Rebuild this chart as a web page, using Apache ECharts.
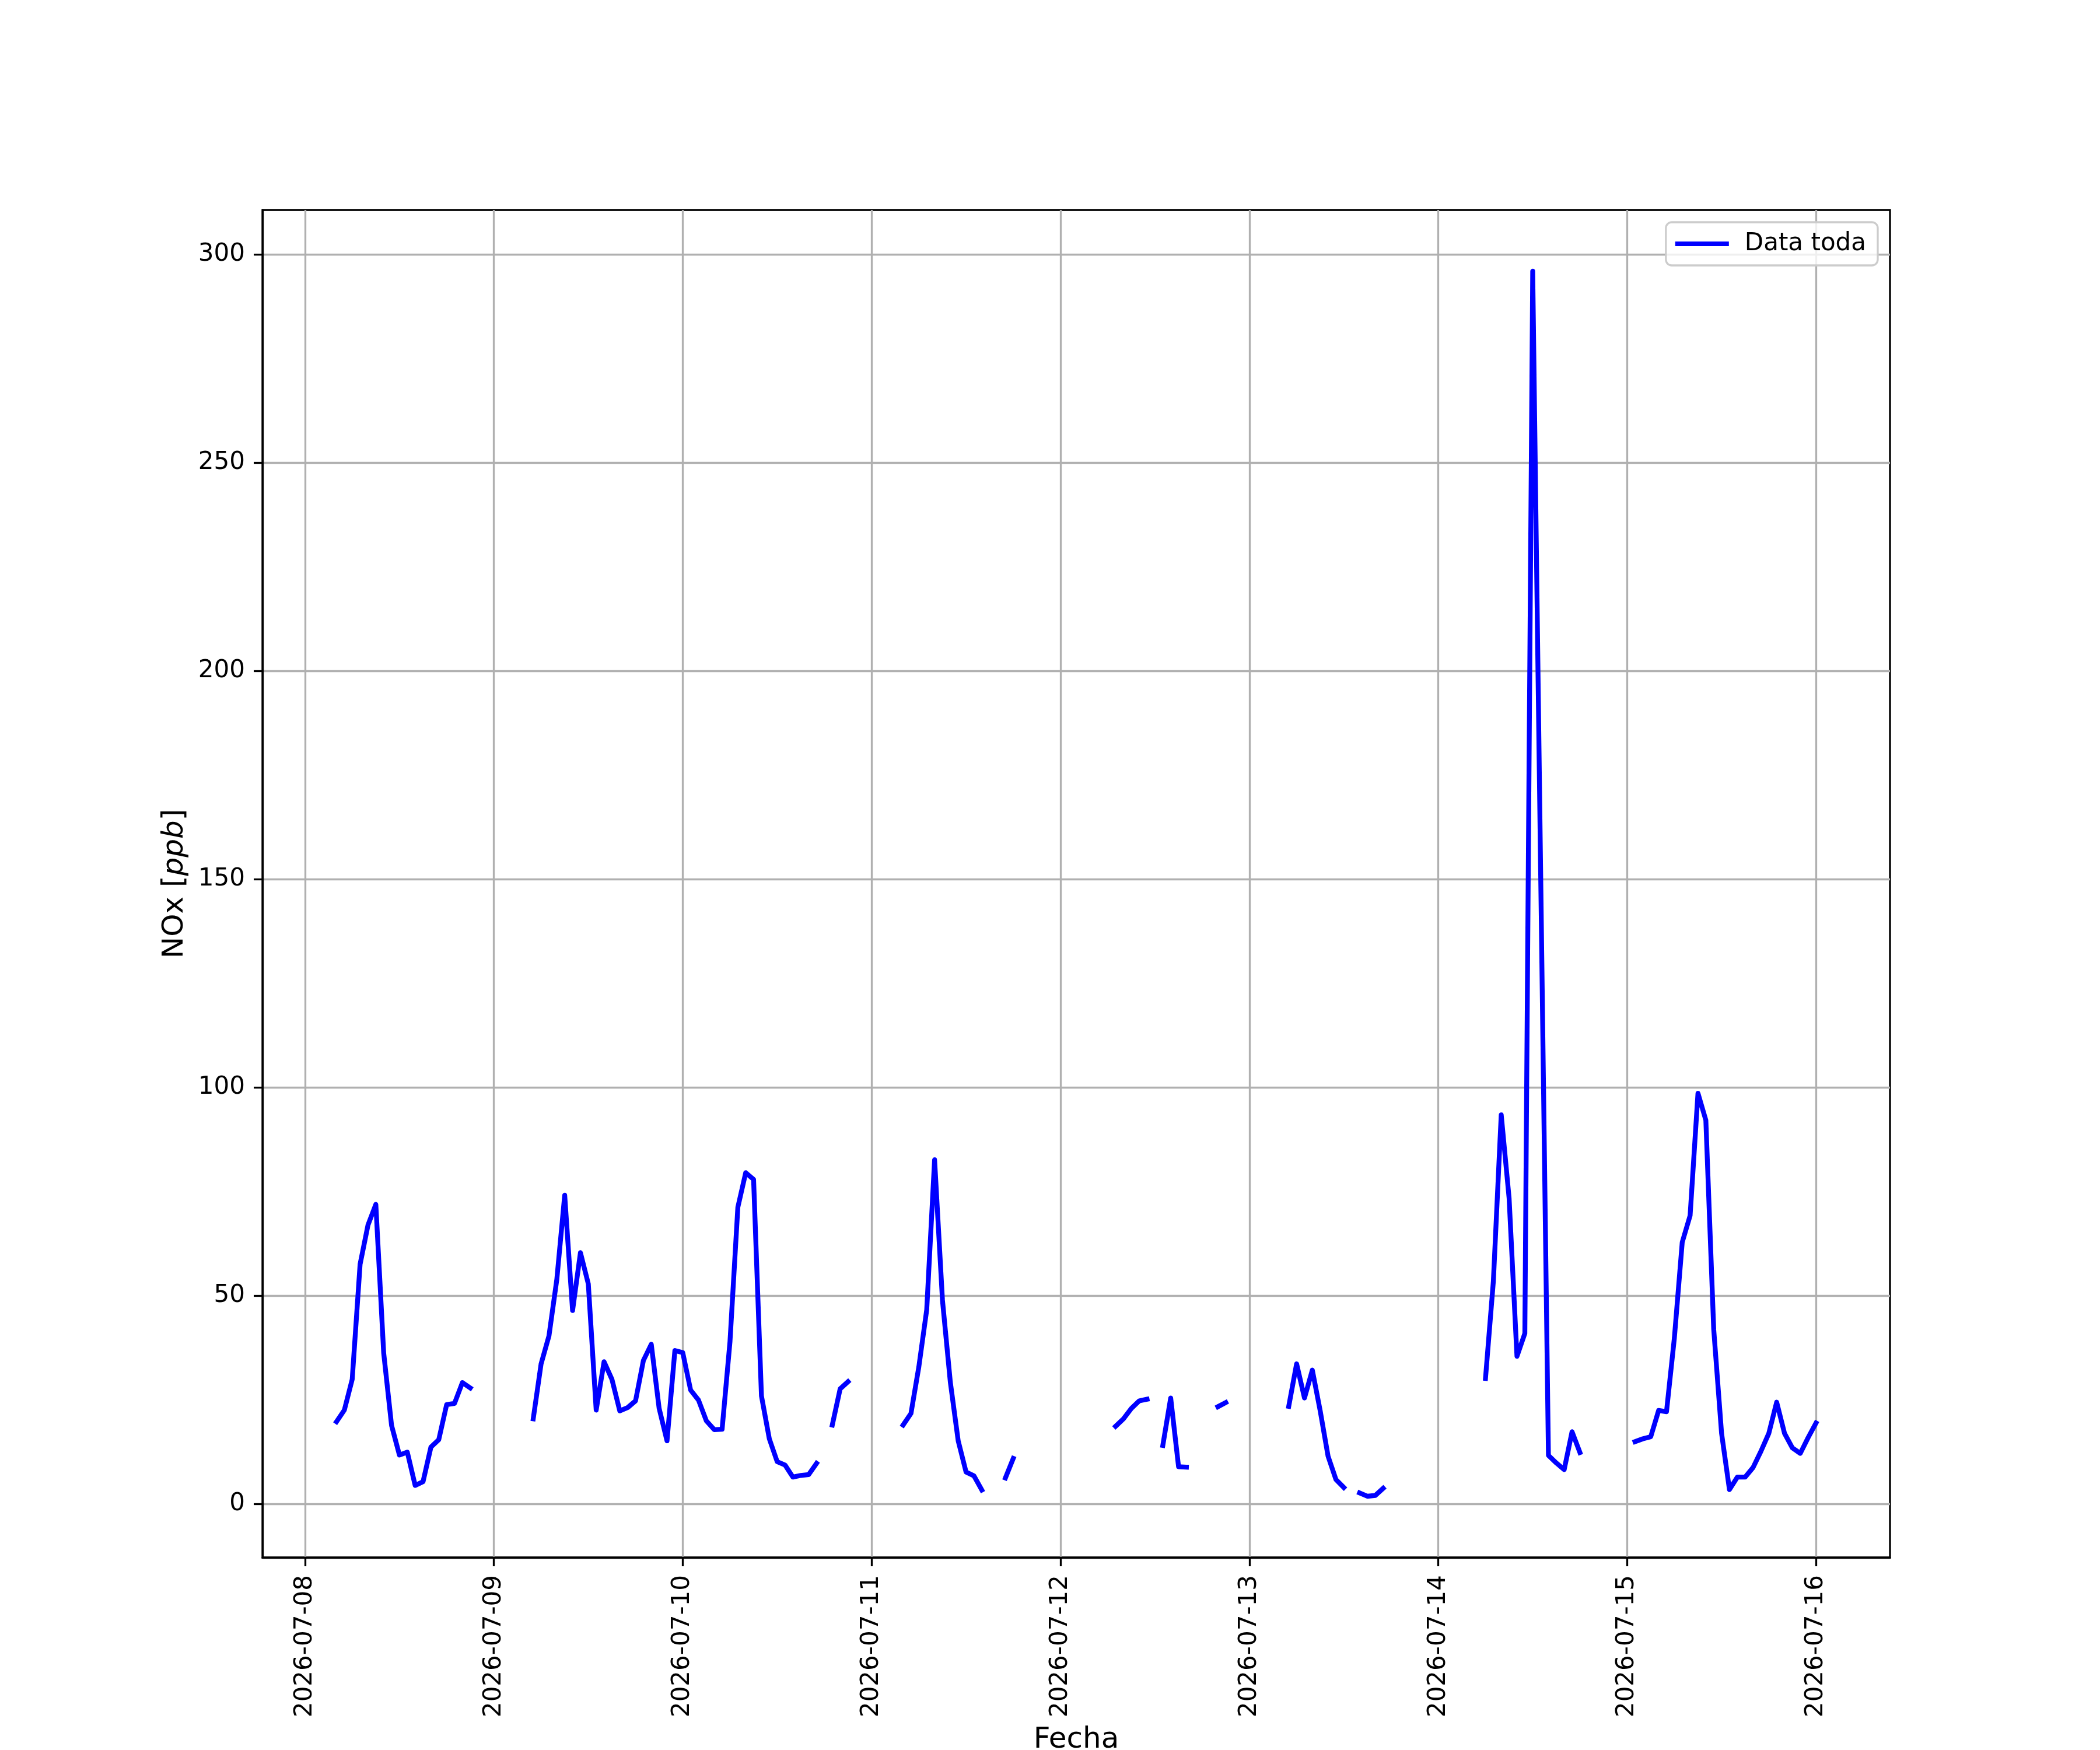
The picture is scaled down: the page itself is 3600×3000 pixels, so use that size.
<!DOCTYPE html>
<html>
<head>
<meta charset="utf-8">
<title>NOx</title>
<script src="https://cdn.jsdelivr.net/npm/echarts@6/dist/echarts.min.js"></script>
<style>
html, body { margin: 0; padding: 0; background: #fff; }
#chart { width: 3600px; height: 3000px; }
</style>
</head>
<body>
<div id="chart"></div>
<script>
// hourly NOx [ppb], first value is 2026-07-08 04:00 (UTC), null = no data
var startTime = Date.UTC(2026, 6, 8, 4);

var nox0708 = [19.7, 22.5, 29.9, 57.5, 66.9, 71.9, 36.2, 18.8, 11.7, 12.4, 4.4, 5.3,
               13.6, 15.4, 23.8, 24.1, 29.1, 27.8, null, null];              // 04..23
var nox0709 = [null, null, null, null, null, 20.4, 33.6, 40.3, 53.9, 74.1, 46.4, 60.3,
               52.8, 22.5, 34.1, 29.9, 22.3, 23.1, 24.7, 34.4, 38.3, 22.9, 15.1, 36.8];
var nox0710 = [36.3, 27.3, 24.9, 19.9, 17.8, 17.9, 38.9, 71.2, 79.5, 77.9, 25.9, 15.6,
               10.1, 9.3, 6.4, 6.8, 7.0, 9.7, null, 18.9, 27.6, 29.3, null, null];
var nox0711 = [null, null, null, null, 18.9, 21.7, 32.9, 46.6, 82.6, 48.9, 29.2, 15.1,
               7.6, 6.7, 3.3, null, null, 6.2, 10.9, null, null, null, null, null];
var nox0712 = [null, null, null, null, null, null, null, 18.6, 20.4, 22.9, 24.7, 25.1,
               null, 14.0, 25.4, 8.9, 8.8, null, null, null, 23.3, 24.3, null, null];
var nox0713 = [null, null, null, null, null, 23.4, 33.6, 25.4, 32.1, 22.3, 11.4, 5.8,
               3.9, null, 2.6, 1.8, 2.0, 3.7, null, null, null, null, null, null];
var nox0714 = [null, null, null, null, null, null, 30.1, 53.4, 93.4, 73.4, 35.4, 40.9,
               296.0, 153.0, 11.6, 9.8, 8.2, 17.3, 12.3, null, null, null, null, null];
var nox0715 = [null, 14.9, 15.6, 16.1, 22.4, 22.1, 39.8, 62.8, 69.2, 98.6, 92.1, 41.9,
               16.9, 3.4, 6.4, 6.4, 8.7, 12.6, 16.9, 24.4, 16.9, 13.4, 12.1, 15.9];
var nox0716 = [19.4];                                                        // 00

var dayLabels = ['2026-07-08', '2026-07-09', '2026-07-10', '2026-07-11', '2026-07-12',
                 '2026-07-13', '2026-07-14', '2026-07-15', '2026-07-16'];
var yTicks = [0, 50, 100, 150, 200, 250, 300];

var HOUR = 3600 * 1000;
var allValues = [].concat(nox0708, nox0709, nox0710, nox0711, nox0712,
                          nox0713, nox0714, nox0715, nox0716);
var seriesData = allValues.map(function (v, i) {
    return [startTime + i * HOUR, v];
});

var dayTicks = dayLabels.map(function (d) {
    var p = d.split('-');
    return Date.UTC(+p[0], +p[1] - 1, +p[2]);
});

// matplotlib style 5% margins
var tEnd = startTime + (allValues.length - 1) * HOUR;
var tPad = (tEnd - startTime) * 0.05;
var present = allValues.filter(function (v) { return v !== null; });
var vMin = Math.min.apply(null, present), vMax = Math.max.apply(null, present);
var vPad = (vMax - vMin) * 0.05;

function pad2(n) { return (n < 10 ? '0' : '') + n; }

var FONT = 'DejaVu Sans';
var LW = 3.3;

var chart = echarts.init(document.getElementById('chart'));
chart.setOption({
    animation: false,
    backgroundColor: '#ffffff',
    grid: {
        left: 450, right: 360, top: 360, bottom: 330,
        show: true, borderColor: '#000', borderWidth: LW,
        containLabel: false, outerBoundsMode: 'none'
    },
    legend: {
        right: 381, top: 381,
        data: [{ name: 'Data toda', icon: 'rect' }],
        itemWidth: 92, itemHeight: 8,
        padding: [16, 20, 16, 16],
        borderColor: '#cccccc', borderWidth: LW, borderRadius: 10,
        backgroundColor: 'rgba(255,255,255,0.8)',
        textStyle: { fontSize: 42, color: '#000', fontFamily: FONT, padding: [0, 0, 0, 22] }
    },
    xAxis: {
        type: 'value',
        min: startTime - tPad,
        max: tEnd + tPad,
        name: 'Fecha',
        nameLocation: 'middle',
        nameGap: 288,
        nameTextStyle: { fontSize: 50, color: '#000', fontFamily: FONT },
        axisLine: { show: true, onZero: false, lineStyle: { color: '#000', width: LW } },
        axisTick: { show: true, length: 15, lineStyle: { color: '#000', width: LW }, customValues: dayTicks },
        axisLabel: {
            customValues: dayTicks,
            rotate: 90, margin: 30,
            fontSize: 42, color: '#000', fontFamily: FONT,
            formatter: function (val) {
                var d = new Date(val);
                return d.getUTCFullYear() + '-' + pad2(d.getUTCMonth() + 1) + '-' + pad2(d.getUTCDate());
            }
        },
        splitLine: { show: true, lineStyle: { color: '#b0b0b0', width: LW } }
    },
    yAxis: {
        type: 'value',
        min: vMin - vPad,
        max: vMax + vPad,
        name: '{n|NOx [}{i|ppb}{n|]}',
        nameLocation: 'middle',
        nameRotate: 90,
        nameGap: 125,
        nameTextStyle: {
            rich: {
                n: { fontSize: 50, color: '#000', fontFamily: FONT },
                i: { fontSize: 50, color: '#000', fontFamily: FONT, fontStyle: 'italic' }
            }
        },
        axisLine: { show: true, lineStyle: { color: '#000', width: LW } },
        axisTick: { show: true, length: 15, lineStyle: { color: '#000', width: LW }, customValues: yTicks },
        axisLabel: {
            customValues: yTicks,
            margin: 30,
            fontSize: 42, color: '#000', fontFamily: FONT
        },
        splitLine: { show: true, lineStyle: { color: '#b0b0b0', width: LW } }
    },
    series: [{
        name: 'Data toda',
        type: 'line',
        data: seriesData,
        symbol: 'none',
        showSymbol: false,
        connectNulls: false,
        itemStyle: { color: '#0000ff' },
        lineStyle: { color: '#0000ff', width: 8.3, cap: 'square', join: 'round' }
    }]
});
</script>
</body>
</html>
